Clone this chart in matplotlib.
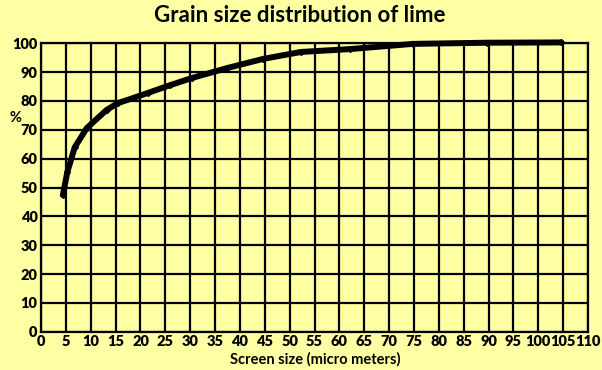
import matplotlib
matplotlib.use("Agg")
import matplotlib.pyplot as plt

screen_size = [4.4, 5.3, 6.8, 9.2, 13.2, 15.5, 18.5, 21.5, 26, 30.4, 37.4, 44.7, 52.3, 62.2, 74.8, 89.7, 104.6]
percent = [47.4, 55.4, 64.0, 70.6, 76.9, 79.3, 81.0, 82.8, 85.5, 88.0, 91.4, 94.6, 97.0, 98.0, 99.8, 100.2, 100.3]
x_ticks = list(range(0, 111, 5))
y_ticks = list(range(0, 101, 10))

bg = "#FFFFA3"
plt.rcParams['font.family'] = ['Lato', 'DejaVu Sans']

fig = plt.figure(figsize=(6.02, 3.70), dpi=100, facecolor=bg)
ax = fig.add_axes([41/602, 1-331.7/370, (588-41)/602, (331.7-43.3)/370])
ax.set_facecolor(bg)
ax.set_xlim(0, 110)
ax.set_ylim(0, 100)
ax.set_xticks(x_ticks)
ax.set_yticks(y_ticks)
ax.grid(True, color="black", linewidth=1.6)
for s in ax.spines.values():
    s.set_color("black")
    s.set_linewidth(1.6)
ax.tick_params(length=0, pad=2.5, labelsize=10.5)
for lab in ax.get_xticklabels() + ax.get_yticklabels():
    lab.set_fontweight("heavy")

ax.plot(screen_size, percent, color="black", linewidth=4.3, marker="D",
        markersize=3, clip_on=False, zorder=5, solid_capstyle="round",
        solid_joinstyle="round")

fig.text(300/602, 1-16/370, "Grain size distribution of lime", ha="center", va="center",
         fontsize=16, fontweight="bold")
fig.text(15/602, 1-118/370, "%", ha="center", va="center", fontsize=10.5, fontweight="bold")
fig.text(315/602, 1-359/370, "Screen size (micro meters)", ha="center", va="center",
         fontsize=10.5, fontweight="bold")

fig.savefig("out.png", dpi=100, facecolor=bg)
